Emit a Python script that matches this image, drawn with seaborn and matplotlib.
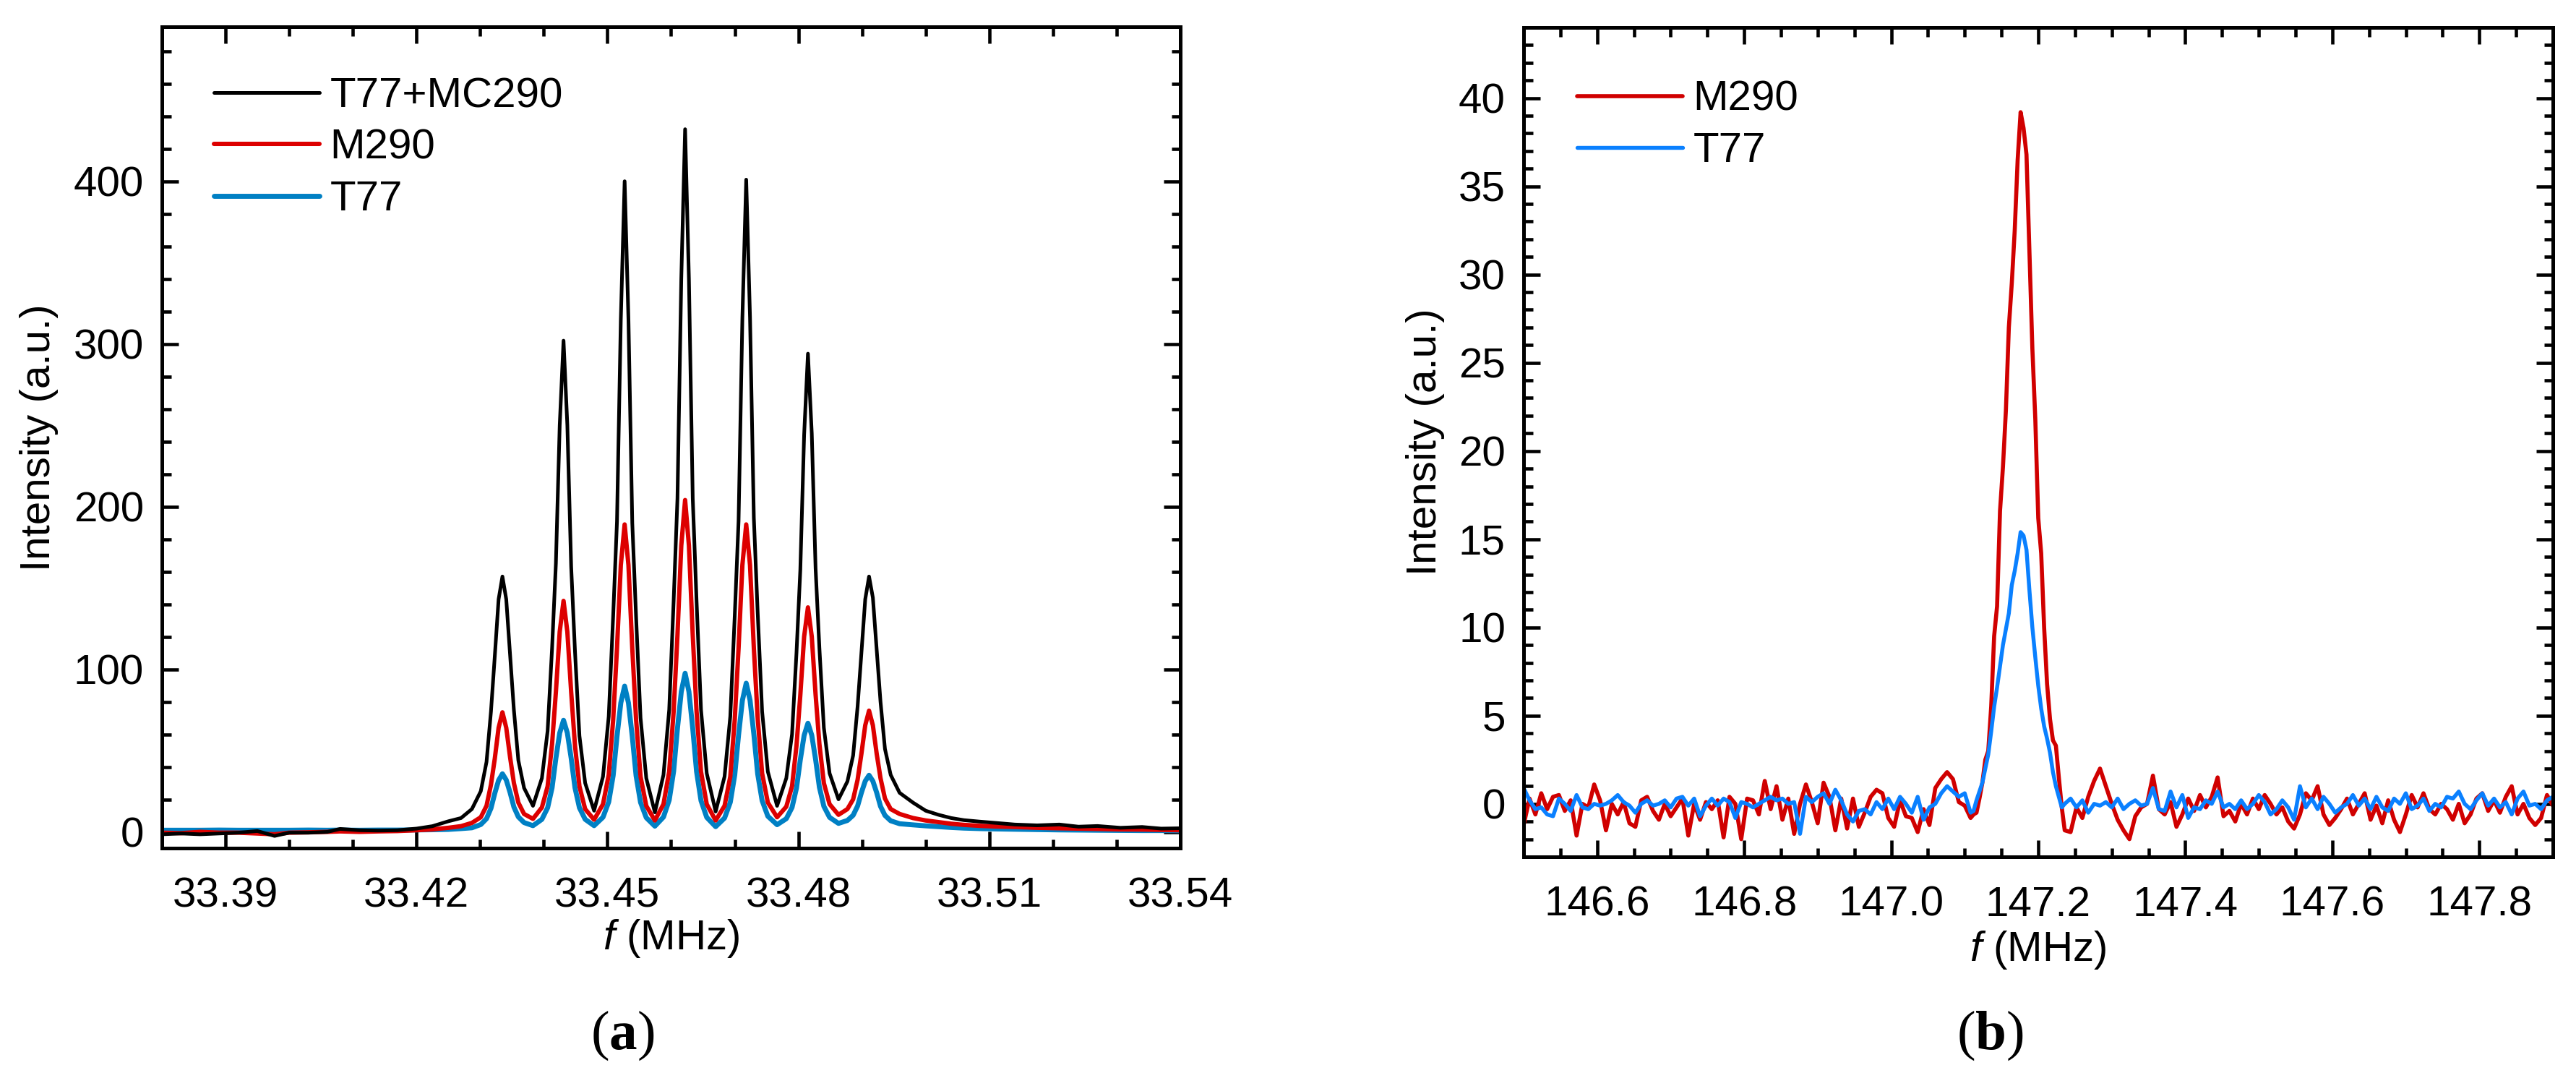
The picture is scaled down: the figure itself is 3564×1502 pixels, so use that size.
import numpy as np
import pandas as pd
import matplotlib
matplotlib.use("Agg")
import matplotlib.pyplot as plt
from matplotlib.ticker import MultipleLocator, FormatStrFormatter
import seaborn as sns

### Panel (a) data: 33 MHz spectrum, three traces on a common frequency grid
a_freq_left = [33.3800, 33.3830, 33.3860, 33.3890, 33.3920, 33.3950, 33.3977, 33.4000, 33.4030, 33.4060,
               33.4080, 33.4110, 33.4140, 33.4170, 33.4200, 33.4225, 33.4250, 33.4270, 33.4287]
a_freq_peaks = [33.4301, 33.4310, 33.4317, 33.4323, 33.4329, 33.4335, 33.4341, 33.4347, 33.4353, 33.4360, 33.4369,
                33.4383,
                33.4397, 33.4406, 33.4413, 33.4419, 33.4425, 33.4431, 33.4437, 33.4443, 33.4449, 33.4456, 33.4465,
                33.4479,
                33.4493, 33.4502, 33.4509, 33.4515, 33.4521, 33.4527, 33.4533, 33.4539, 33.4545, 33.4552, 33.4561,
                33.45745,
                33.4588, 33.4597, 33.4604, 33.4610, 33.4616, 33.4622, 33.4628, 33.4634, 33.4640, 33.4647, 33.4656,
                33.4670,
                33.4684, 33.4693, 33.4700, 33.4706, 33.4712, 33.4718, 33.4724, 33.4730, 33.4736, 33.4743, 33.4752,
                33.47665,
                33.4781, 33.4790, 33.4797, 33.4803, 33.4809, 33.4815, 33.4821, 33.4827, 33.4833, 33.4840, 33.4849,
                33.4863,
                33.4877, 33.4886, 33.4893, 33.4899, 33.4905, 33.4911, 33.4917, 33.4923, 33.4929, 33.4936, 33.4945]
a_freq_right = [33.4959, 33.4980, 33.5000, 33.5020, 33.5040, 33.5060, 33.5085, 33.5110, 33.5140, 33.5175,
                33.5210, 33.5240, 33.5270, 33.5306, 33.5340, 33.5370, 33.5400]

# T77+MC290 (black)
total_left = [-1.5, -1.0, -1.5, -1.0, -0.5, 0.5, -2.5, -0.5, -0.5, 0.0,
              1.8, 1.0, 0.8, 1.0, 2.0, 3.5, 6.5, 8.5, 14.0]
total_peaks = [25, 43, 74, 108, 143, 157, 143, 109, 75, 44, 27,
               16,
               33, 62, 113, 165, 250, 302, 250, 163, 111, 59, 30,
               13,
               34, 71, 133, 191, 315, 400, 315, 190, 132, 70, 33,
               12,
               35, 75, 142, 205, 340, 432, 340, 205, 142, 75, 36,
               12.5,
               34, 71, 133, 191, 316, 401, 316, 193, 135, 74, 37,
               16,
               33, 60, 110, 161, 244, 294, 245, 162, 113, 64, 36,
               20,
               31, 47, 77, 110, 143, 157, 144, 112, 80, 51, 35]
total_right = [24, 18, 13, 10.5, 8.5, 7.2, 6.3, 5.5, 4.5, 4, 4.5, 3.2, 3.6, 2.5, 3.0, 2.0, 2.2]

# M290 (red)
m290_a_left = [-0.5, -0.8, 0.0, -0.5, -0.5, -1.0, -1.5, -0.5, -0.3, 0.0,
               0.3, 0.0, 0.3, 0.5, 1.0, 1.5, 2.5, 3.5, 5.5]
m290_a_peaks = [9, 16, 29, 45, 64, 73.5, 64, 46, 30, 18, 11,
                8,
                15, 28, 54, 86, 123, 142, 123, 86, 53, 28, 14,
                7.5,
                17, 35, 69, 113, 164, 189, 164, 113, 69, 34, 16,
                7,
                17, 37, 74, 121, 176, 204, 176, 121, 74, 37, 17,
                7,
                16, 34, 69, 113, 164, 189, 164, 113, 70, 36, 18,
                9,
                15.5, 28, 53, 84, 120, 138, 120, 84.5, 54, 30, 17,
                10.5,
                14, 20, 32, 48, 65.5, 74.5, 65.5, 48, 33, 20.5, 14]
m290_a_right = [11, 8.5, 7.0, 6.0, 5.0, 4.3, 3.7, 3.3, 3.0, 2.5, 2.2, 2.0, 1.8, 1.5, 1.4, 1.2, 1.0]

# T77 (blue)
t77_a_left = [1.0, 1.0, 1.0, 1.1, 1.0, 1.0, 1.0, 1.0, 1.1, 1.0,
              1.1, 1.0, 1.1, 1.1, 1.2, 1.3, 1.5, 2.0, 2.5]
t77_a_peaks = [4.5, 8.1, 14.5, 23.7, 31.7, 35.7, 31.9, 24.2, 15.3, 9.2, 5.7,
               3.8,
               7.7, 14.8, 27.1, 45.3, 60.8, 68.6, 60.8, 45.3, 27.1, 14.8, 7.7,
               3.8,
               9, 18.4, 34.7, 58.7, 79.3, 89.6, 79.3, 58.6, 34.5, 18.1, 8.7,
               3.5,
               9.1, 19.5, 37.3, 63.7, 86.2, 97.5, 86.2, 63.6, 37.1, 19.2, 8.9,
               3.2,
               8.5, 18.2, 35, 59.6, 80.8, 91.4, 81, 60.1, 35.7, 19.2, 9.6,
               4.4,
               8.1, 15, 26.9, 44.3, 59.3, 66.8, 59.4, 44.6, 27.4, 15.7, 8.9,
               5.2,
               7, 10.2, 15.9, 24.1, 31.2, 34.8, 31.2, 24.1, 15.7, 10.1, 6.8]
t77_a_right = [5.0, 4.3, 3.7, 3.2, 2.7, 2.3, 2.0, 1.8, 1.6, 1.4, 1.2, 1.1, 1.0, 0.9, 0.8, 0.8, 0.7]

### Panel (b) data: 147 MHz line, two traces on a common grid
b_freq_left = [146.500, 146.508, 146.516, 146.524, 146.532, 146.540, 146.548, 146.556, 146.564, 146.572,
               146.580, 146.588, 146.596, 146.604, 146.612, 146.620, 146.628, 146.636, 146.644, 146.652,
               146.660, 146.668, 146.676, 146.684, 146.692, 146.700, 146.708, 146.716, 146.724, 146.732,
               146.740, 146.748, 146.756, 146.764, 146.772, 146.780, 146.788,
               146.796, 146.804, 146.812, 146.820, 146.828, 146.836, 146.844, 146.852, 146.860, 146.868,
               146.876, 146.884, 146.892, 146.900, 146.908, 146.916, 146.924, 146.932, 146.940, 146.948,
               146.956, 146.964, 146.972, 146.980, 146.988, 146.996, 147.004, 147.012, 147.020, 147.028,
               147.036, 147.044, 147.052, 147.060, 147.068, 147.076, 147.084, 147.092, 147.100, 147.108]
b_freq_peak = [147.112, 147.116, 147.120, 147.124, 147.128, 147.132, 147.136, 147.140, 147.144, 147.148,
               147.152, 147.156, 147.160, 147.164, 147.168, 147.172, 147.176, 147.180, 147.184, 147.188,
               147.192, 147.196, 147.200, 147.204, 147.208, 147.212, 147.216, 147.220, 147.224, 147.228,
               147.232]
b_freq_right = [147.236, 147.244, 147.252, 147.260, 147.268, 147.276, 147.284, 147.292, 147.300, 147.308,
                147.316, 147.324, 147.332, 147.340, 147.348, 147.356, 147.364, 147.372, 147.380, 147.388,
                147.396, 147.404, 147.412, 147.420, 147.428, 147.436, 147.444, 147.452, 147.460, 147.468,
                147.476, 147.484, 147.492, 147.500, 147.508, 147.516, 147.524, 147.532, 147.540, 147.548,
                147.556, 147.564, 147.572, 147.580, 147.588, 147.596, 147.604, 147.612, 147.620, 147.628,
                147.636, 147.644, 147.652, 147.660, 147.668, 147.676, 147.684, 147.692, 147.700, 147.708,
                147.716, 147.724, 147.732, 147.740, 147.748, 147.756, 147.764, 147.772, 147.780, 147.788,
                147.796, 147.804, 147.812, 147.820, 147.828, 147.836, 147.844, 147.852, 147.860, 147.868,
                147.876, 147.884, 147.892, 147.900]

m290_b_left = [-1.2, 0.3, -0.6, 0.6, -0.3, 0.4, 0.5, -0.4, 0.2, -1.8,
               0.0, -0.2, 1.1, 0.2, -1.5, 0.0, -0.6, 0.1, -1.1, -1.3,
               0.2, 0.4, -0.4, -0.9, 0.0, -0.7, -0.2, 0.3, -1.8, 0.0,
               -0.9, 0.1, -0.3, 0.2, -1.9, 0.4, 0.0,
               -2.0, 0.3, 0.2, -0.6, 1.3, -0.3, 1.0, -0.9, 0.3, -1.7,
               0.0, 1.1, 0.1, -1.1, 1.2, 0.4, -1.5, 0.3, -1.4, 0.3,
               -1.3, -0.5, 0.4, 0.8, 0.6, -0.8, -1.3, 0.2, -0.7, -0.8,
               -1.6, -0.3, -1.2, 0.9, 1.4, 1.8, 1.4, 0.1, -0.1, -0.8]
m290_b_peak = [-0.6, -0.5, 0.3, 1.2, 2.5, 3.0, 5.5, 9.5, 11.2, 16.6,
               19.1, 22.3, 27.0, 29.5, 32.5, 36.5, 39.2, 38.3, 36.8, 31.3,
               25.8, 21.8, 16.2, 14.2, 10.0, 6.8, 4.8, 3.6, 3.3, 1.5,
               -0.2]
m290_b_right = [-1.5, -1.6, -0.2, -0.8, 0.4, 1.3, 2.0, 1.0, 0.0, -0.9,
                -1.5, -2.0, -0.7, -0.2, 0.0, 1.6, -0.3, -0.6, 0.1, -1.3,
                -0.6, 0.3, -0.4, 0.5, -0.2, 0.4, 1.5, -0.7, -0.4, -1.0,
                0.0, -0.6, 0.3, -0.3, 0.5, 0.0, -0.6, -0.2, -1.0, -1.4,
                -0.6, 0.6, 0.2, 1.0, -0.6, -1.2, -0.8, -0.3, 0.3, -0.6,
                0.0, 0.6, -0.9, -0.1, -1.1, 0.2, -0.9, -1.6, -0.6, 0.5,
                -0.2, 0.6, -0.3, -0.6, 0.0, -0.3, -0.9, 0.0, -1.1, -0.6,
                0.3, 0.6, -0.4, 0.2, -0.5, 0.4, 1.0, -0.6, 0.0, -0.8,
                -1.2, -0.8, 0.5, -0.1]

t77_b_left = [0.9, 0.2, -0.3, -0.2, -0.6, -0.7, 0.3, 0.0, -0.4, 0.5,
              -0.2, -0.3, 0.0, -0.1, 0.0, 0.2, 0.5, 0.1, -0.1, -0.5,
              0.0, 0.2, -0.1, 0.0, 0.2, -0.2, 0.3, 0.4, -0.1, 0.3,
              -0.7, -0.1, 0.3, -0.1, 0.3, 0.1, -0.8,
              0.1, 0.0, -0.2, 0.0, 0.2, 0.4, 0.2, 0.3, 0.0, 0.1,
              -1.7, 0.4, 0.1, 0.4, 0.6, 0.0, 0.8, 0.2, -0.6, -1.0,
              -0.4, -0.3, -0.6, 0.1, -0.3, 0.3, -0.3, 0.4, 0.0, -0.5,
              0.4, -0.9, -0.2, 0.0, 0.6, 1.0, 0.7, 0.4, 0.6, -0.5]
t77_b_peak = [-0.4, 0.2, 0.7, 1.2, 2.0, 2.8, 4.1, 5.5, 6.6, 7.8,
              9.0, 9.9, 10.8, 12.4, 13.2, 14.2, 15.4, 15.2, 14.4, 12.1,
              10.0, 8.3, 6.7, 5.4, 4.4, 3.7, 2.9, 1.8, 1.0, 0.4,
              -0.2]
t77_b_right = [0.0, 0.3, -0.2, 0.2, -0.5, 0.0, -0.1, 0.1, -0.2, 0.3,
               -0.3, 0.0, 0.2, -0.1, 0.0, 0.9, -0.3, -0.4, 0.7, -0.2,
               0.5, -0.8, -0.2, -0.3, 0.2, 0.0, 0.7, -0.2, 0.0, -0.3,
               0.2, -0.3, 0.0, 0.5, 0.1, -0.6, -0.3, 0.2, -0.2, -0.9,
               1.0, -0.2, 0.3, -0.3, 0.4, 0.0, -0.5, -0.2, 0.0, 0.5,
               -0.1, 0.3, -0.3, 0.4, -0.2, -0.4, 0.3, 0.0, 0.6, -0.3,
               -0.1, 0.3, -0.4, 0.0, -0.2, 0.4, 0.3, 0.7, 0.0, -0.3,
               0.2, 0.6, -0.1, 0.3, -0.2, 0.1, -0.6, 0.3, 0.7, -0.1,
               0.0, -0.3, 0.2, 0.4]

a_freq = a_freq_left + a_freq_peaks + a_freq_right
a_total = total_left + total_peaks + total_right
a_m290 = m290_a_left + m290_a_peaks + m290_a_right
a_t77 = t77_a_left + t77_a_peaks + t77_a_right

b_freq = b_freq_left + b_freq_peak + b_freq_right
b_m290 = m290_b_left + m290_b_peak + m290_b_right
b_t77 = t77_b_left + t77_b_peak + t77_b_right

### Style
sns.set_theme(style="ticks")
plt.rcParams["font.family"] = ["Liberation Sans", "DejaVu Sans"]
plt.rcParams["mathtext.fontset"] = "custom"
plt.rcParams["mathtext.rm"] = "Liberation Sans"
plt.rcParams["mathtext.it"] = "Liberation Sans:italic"
plt.rcParams["mathtext.bf"] = "Liberation Serif:bold"
for key in ["axes.edgecolor", "text.color", "axes.labelcolor", "xtick.color", "ytick.color"]:
    plt.rcParams[key] = "black"

fig = plt.figure(figsize=(11.88, 5.0067), dpi=300)
ax_a = fig.add_axes([0.06285, 0.21904, 0.39534, 0.75633])
ax_b = fig.add_axes([0.59147, 0.21105, 0.39955, 0.76365])


def style_axes(ax):
    for s in ax.spines.values():
        s.set_linewidth(1.2)
    ax.tick_params(which="both", direction="in", top=True, right=True, labelsize=14)
    ax.tick_params(which="major", length=5.5, width=1.1)
    ax.tick_params(which="minor", length=3.0, width=1.1)
    ax.tick_params(axis="x", which="both", pad=9.5)
    ax.tick_params(axis="y", which="both", pad=6)


### Panel (a)
sns.lineplot(x=a_freq, y=a_t77, ax=ax_a, color="#0080C4", lw=1.65, label="T77",
             sort=False, errorbar=None, zorder=1)
sns.lineplot(x=a_freq, y=a_m290, ax=ax_a, color="#DD0000", lw=1.45, label="M290",
             sort=False, errorbar=None, zorder=2)
sns.lineplot(x=a_freq, y=a_total, ax=ax_a, color="black", lw=1.2, label="T77+MC290",
             sort=False, errorbar=None, zorder=3)
ax_a.set_xlim(33.38, 33.54)
ax_a.set_ylim(-10, 495)
ax_a.xaxis.set_major_locator(MultipleLocator(0.03))
ax_a.xaxis.set_minor_locator(MultipleLocator(0.01))
ax_a.xaxis.set_major_formatter(FormatStrFormatter("%.2f"))
ax_a.yaxis.set_major_locator(MultipleLocator(100))
ax_a.yaxis.set_minor_locator(MultipleLocator(20))
style_axes(ax_a)
ax_a.set_xlabel(r"$f$ (MHz)", fontsize=14)
ax_a.set_ylabel("Intensity (a.u.)", fontsize=14)
ax_a.yaxis.set_label_coords(-0.1015, 0.5)
ax_a.xaxis.set_label_coords(0.5, -0.0845)
h, l = ax_a.get_legend_handles_labels()
order = [l.index("T77+MC290"), l.index("M290"), l.index("T77")]
ax_a.legend([h[i] for i in order], [l[i] for i in order], loc="upper left",
            bbox_to_anchor=(0.051, 0.939), frameon=False, borderpad=0, borderaxespad=0,
            handlelength=2.5, handletextpad=0.25, labelspacing=0.30, fontsize=14)

### Panel (b)
sns.lineplot(x=b_freq, y=b_m290, ax=ax_b, color="#D00000", lw=1.35, label="M290",
             sort=False, errorbar=None, zorder=1)
sns.lineplot(x=b_freq, y=b_t77, ax=ax_b, color="#0A80FF", lw=1.3, label="T77",
             sort=False, errorbar=None, zorder=2)
ax_b.set_xlim(146.5, 147.9)
ax_b.set_ylim(-3, 44)
ax_b.xaxis.set_major_locator(MultipleLocator(0.2))
ax_b.xaxis.set_minor_locator(MultipleLocator(0.05))
ax_b.xaxis.set_major_formatter(FormatStrFormatter("%.1f"))
ax_b.yaxis.set_major_locator(MultipleLocator(5))
ax_b.yaxis.set_minor_locator(MultipleLocator(1))
style_axes(ax_b)
ax_b.set_xlabel(r"$f$ (MHz)", fontsize=14)
ax_b.set_ylabel("Intensity (a.u.)", fontsize=14)
ax_b.yaxis.set_label_coords(-0.0765, 0.5)
ax_b.xaxis.set_label_coords(0.5, -0.0872)
ax_b.legend(loc="upper left", bbox_to_anchor=(0.052, 0.9364), frameon=False, borderpad=0,
            borderaxespad=0, handlelength=2.5, handletextpad=0.25, labelspacing=0.30, fontsize=14)

### Sub-figure captions
fig.text(0.2416, 0.0466, r"($\mathbf{a}$)", family="Liberation Serif", fontsize=18.5,
         ha="center", va="center")
fig.text(0.7727, 0.0466, r"($\mathbf{b}$)", family="Liberation Serif", fontsize=18.5,
         ha="center", va="center")

fig.savefig("out.png", dpi=300)
